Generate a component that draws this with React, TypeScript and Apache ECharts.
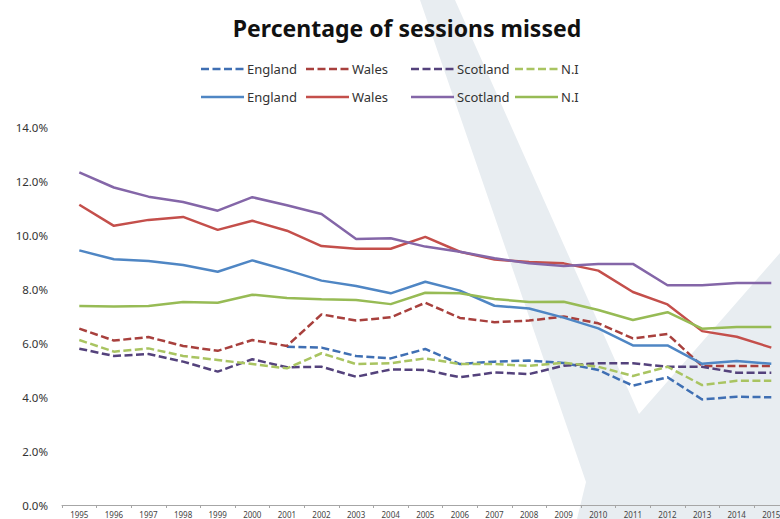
import React, { useEffect, useRef } from "react";
import * as echarts from "echarts";

// Academic years on the category axis
const years = [
  "1995", "1996", "1997", "1998", "1999", "2000", "2001", "2002", "2003", "2004",
  "2005", "2006", "2007", "2008", "2009", "2010", "2011", "2012", "2013", "2014", "2015",
];

// Dashed series (percent of sessions missed)
const englandDashed = [null, null, null, null, null, null, 5.86, 5.83, 5.52, 5.43, 5.78, 5.22, 5.31, 5.35, 5.26, 5.0, 4.42, 4.73, 3.91, 4.01, 3.99];
const walesDashed = [6.53, 6.09, 6.22, 5.89, 5.71, 6.11, 5.89, 7.06, 6.83, 6.95, 7.49, 6.93, 6.77, 6.83, 6.98, 6.73, 6.17, 6.33, 5.15, 5.15, 5.15];
const scotlandDashed = [5.79, 5.52, 5.59, 5.31, 4.94, 5.4, 5.1, 5.12, 4.75, 5.02, 5.0, 4.73, 4.91, 4.85, 5.16, 5.25, 5.25, 5.12, 5.12, 4.9, 4.9];
const niDashed = [6.11, 5.68, 5.8, 5.52, 5.37, 5.22, 5.06, 5.62, 5.22, 5.25, 5.43, 5.22, 5.22, 5.15, 5.27, 5.12, 4.78, 5.12, 4.44, 4.6, 4.6];

// Solid series (percent of sessions missed)
const englandSolid = [9.43, 9.1, 9.04, 8.89, 8.64, 9.06, 8.7, 8.31, 8.11, 7.84, 8.27, 7.94, 7.38, 7.28, 6.94, 6.54, 5.91, 5.91, 5.23, 5.33, 5.23];
const walesSolid = [11.12, 10.34, 10.56, 10.67, 10.19, 10.53, 10.16, 9.59, 9.49, 9.49, 9.93, 9.38, 9.09, 9.0, 8.95, 8.68, 7.89, 7.43, 6.44, 6.23, 5.83];
const scotlandSolid = [12.32, 11.76, 11.42, 11.22, 10.9, 11.4, 11.1, 10.78, 9.85, 9.88, 9.57, 9.38, 9.14, 8.95, 8.85, 8.93, 8.93, 8.14, 8.14, 8.22, 8.22];
const niSolid = [7.37, 7.35, 7.37, 7.52, 7.49, 7.79, 7.67, 7.62, 7.59, 7.44, 7.86, 7.84, 7.63, 7.52, 7.53, 7.22, 6.85, 7.14, 6.53, 6.59, 6.59];

const nations = ["England", "Wales", "Scotland", "N.I"];
const dashedData = [englandDashed, walesDashed, scotlandDashed, niDashed];
const solidData = [englandSolid, walesSolid, scotlandSolid, niSolid];
const dashedColors = ["#3f6fb3", "#a8403d", "#54427c", "#a9c461"];
const solidColors = ["#4f86c4", "#c44f4b", "#8466a8", "#97bb55"];

const yTicks = { min: 0, max: 14, interval: 2 };

const FONT = "'Noto Sans', 'Liberation Sans', sans-serif";
const DASH = [8, 3.5];

export default function App() {
  const ref = useRef<HTMLDivElement>(null);

  useEffect(() => {
    if (!ref.current) return;
    const chart = echarts.init(ref.current, null, { renderer: "svg" });

    const series: any[] = [];
    dashedData.forEach((d, i) =>
      series.push({
        name: nations[i] + " (dashed)",
        type: "line",
        data: d,
        symbol: "none",
        connectNulls: false,
        z: 2,
        lineStyle: { color: dashedColors[i], width: 2.5, type: DASH },
      })
    );
    solidData.forEach((d, i) =>
      series.push({
        name: nations[i],
        type: "line",
        data: d,
        symbol: "none",
        z: 3,
        lineStyle: { color: solidColors[i], width: 2.5, type: "solid" },
      })
    );

    // Two-row legend: dashed styles above, solid styles below
    const colX = [201, 306, 411, 515];
    const rowY = [69, 97];
    const legendEls: any[] = [];
    [dashedColors, solidColors].forEach((colors, r) => {
      nations.forEach((n, i) => {
        legendEls.push({
          type: "line",
          silent: true,
          shape: { x1: colX[i], y1: rowY[r], x2: colX[i] + 43, y2: rowY[r] },
          style: { stroke: colors[i], lineWidth: 2.5, lineDash: r === 0 ? DASH : null },
        });
        legendEls.push({
          type: "text",
          silent: true,
          x: colX[i] + 46,
          y: rowY[r],
          style: {
            text: n,
            fill: "#333",
            font: `13px ${FONT}`,
            textVerticalAlign: "middle",
          },
        });
      });
    });

    chart.setOption({
      animation: false,
      backgroundColor: "#ffffff",
      grid: {
        left: 62,
        top: 127,
        width: 726.6,
        height: 378,
        containLabel: false,
        outerBoundsMode: "none",
      },
      graphic: [
        {
          type: "polygon",
          silent: true,
          z: -10,
          shape: {
            points: [
              [420, 0],
              [455, 0],
              [639, 414],
              [780, 253],
              [780, 519],
              [577, 519],
              [586, 482],
            ],
          },
          style: { fill: "#e8edf1" },
        },
        {
          type: "text",
          silent: true,
          x: 407,
          y: 28,
          style: {
            text: "Percentage of sessions missed",
            fill: "#111",
            font: `bold 23px ${FONT}`,
            textAlign: "center",
            textVerticalAlign: "middle",
          },
        },
        ...legendEls,
      ],
      xAxis: {
        type: "category",
        data: years,
        boundaryGap: true,
        axisLine: { lineStyle: { color: "#a6a6a6", width: 1 } },
        axisTick: { show: true, length: 3, lineStyle: { color: "#a6a6a6" } },
        axisLabel: { interval: 0, fontSize: 8, color: "#444", margin: 5, fontFamily: FONT },
      },
      yAxis: {
        type: "value",
        min: yTicks.min,
        max: yTicks.max,
        interval: yTicks.interval,
        axisLine: { show: false },
        axisTick: { show: false },
        splitLine: { show: false },
        axisLabel: {
          formatter: (v: number) => v.toFixed(1) + "%",
          fontSize: 11.5,
          color: "#333",
          margin: 14,
          fontFamily: FONT,
        },
      },
      series,
    });

    return () => chart.dispose();
  }, []);

  return (
    <div
      ref={ref}
      style={{ position: "fixed", left: 0, top: 0, width: 780, height: 519 }}
    />
  );
}
